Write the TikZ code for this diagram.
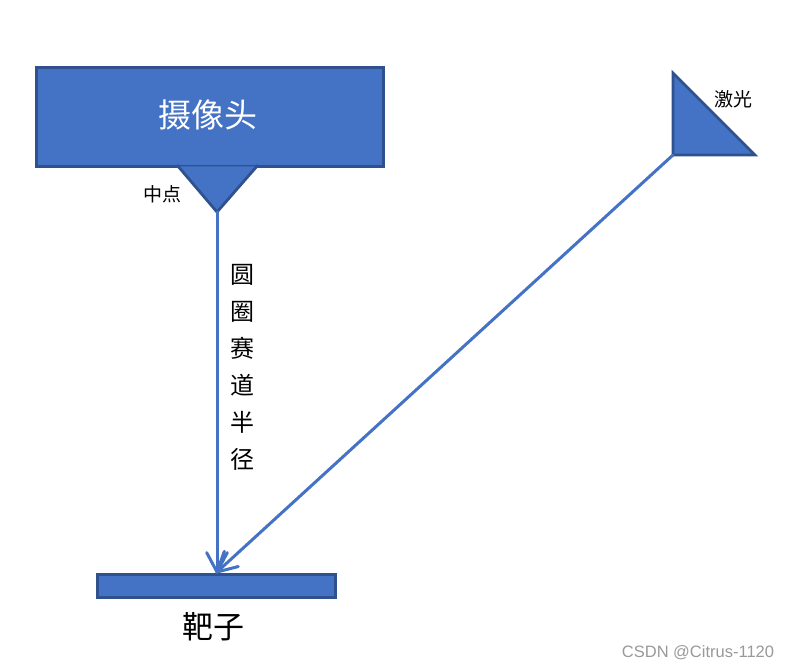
\documentclass[tikz,border=0pt]{standalone}
\usepackage{fontspec}
\newfontfamily\cjk{Noto Sans CJK SC}
\usetikzlibrary{calc}
\definecolor{fillblue}{HTML}{4472C4}
\definecolor{edgeblue}{HTML}{2F528F}
\tikzset{
  blockbox/.style={draw=edgeblue, fill=fillblue, line width=2.8pt, inner sep=0pt},
  beam/.style={draw=fillblue, line width=3pt, line cap=round, line join=round},
  lbl/.style={font=\cjk, inner sep=0pt, text=black}
}
\begin{document}
\begin{tikzpicture}[x=1pt,y=-1pt]
\useasboundingbox (0,0) rectangle (788,669);
% camera
\node[blockbox, minimum width=347pt, minimum height=99pt, anchor=north west] (cam) at (35,66) {};
\node[font=\cjk\fontsize{33}{33}\selectfont, text=white, inner sep=0pt] (camtxt) at (207.5,115) {摄像头};
% midpoint triangle
\coordinate (tl) at (177,165);
\coordinate (tr) at (258,165);
\coordinate (mid) at (217,212);
\fill[fillblue] ([yshift=-1.4pt]tl) -- (mid) -- ([yshift=-1.4pt]tr) -- cycle;
\draw[edgeblue, line width=2.8pt, line join=miter] (tl) -- (mid) -- (tr);
\node[lbl, font=\cjk\fontsize{19}{19}\selectfont] (midtxt) at (162.5,194) {中点};
% laser
\coordinate (la) at (673,73);
\coordinate (lb) at (673,155);
\coordinate (lc) at (755,155);
\draw[blockbox, line join=miter] (la) -- (lb) -- (lc) -- cycle;
\node[lbl, font=\cjk\fontsize{19}{19}\selectfont] (lasertxt) at (733,99) {激光};
% target
\node[blockbox, minimum width=238pt, minimum height=23pt, anchor=north west] (tgt) at (96,573) {};
\coordinate (hit) at (217,572);
\node[lbl, font=\cjk\fontsize{31}{31}\selectfont] (tgttxt) at (213,627) {靶子};
% beams
\draw[beam] (mid) -- (hit);
\draw[beam] (lb) -- (hit);
% open arrowheads
\draw[beam] ($(hit)!22pt!28:(mid)$) -- (hit) -- ($(hit)!22pt!-28:(mid)$);
\draw[beam] ($(hit)!22pt!28:(lb)$) -- (hit) -- ($(hit)!22pt!-28:(lb)$);
% radius label
\node[lbl, font=\cjk\fontsize{24}{37}\selectfont, align=center, text width=26pt] (radtxt) at (242,367) {圆\\圈\\赛\\道\\半\\径};
% watermark
\node[font=\fontspec{Liberation Sans}\fontsize{16.5}{16.5}\selectfont, text=black!40, inner sep=0pt] (wm) at (698,653) {CSDN @Citrus-1120};
\end{tikzpicture}
\end{document}
